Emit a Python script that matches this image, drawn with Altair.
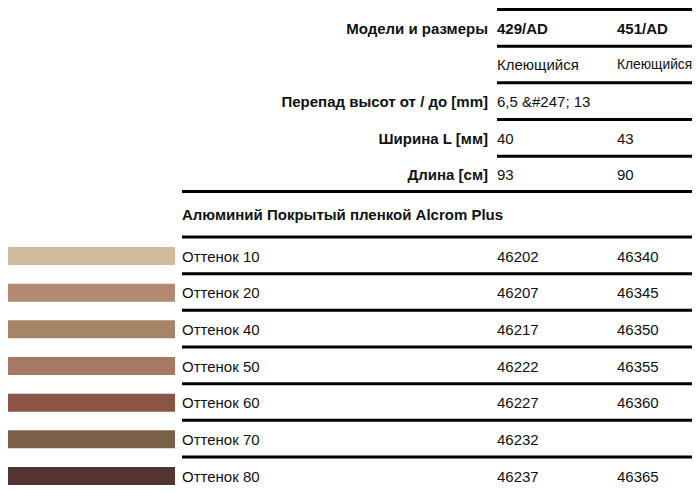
import altair as alt
import pandas as pd

# ---------------- data ----------------
model_columns = ["429/AD", "451/AD"]
spec_labels = ["Модели и размеры", "", "Перепад высот от / до [mm]", "Ширина L [мм]", "Длина [см]"]
col1_specs = ["429/AD", "Клеющийся", "6,5 &#247; 13", "40", "93"]
col2_specs = ["451/AD", "Клеющийся", "", "43", "90"]
section_title = "Алюминий Покрытый пленкой Alcrom Plus"
shade_names = ["Оттенок 10", "Оттенок 20", "Оттенок 40", "Оттенок 50",
               "Оттенок 60", "Оттенок 70", "Оттенок 80"]
col1_codes = ["46202", "46207", "46217", "46222", "46227", "46232", "46237"]
col2_codes = ["46340", "46345", "46350", "46355", "46360", "", "46365"]
shade_colors = ["#d0b99c", "#b48a70", "#a88466", "#a67965", "#8c5445", "#7a6046", "#533530"]

# ---------------- layout (page pixel units) ----------------
ROW_H = 36.67
HEAD_TOP = 9.5
SHADE_TOP = 237.0
LABEL_RIGHT = 488
COL_X = [497, 617]
LEFT_X = 182
RIGHT_EDGE = 692
SW_X0, SW_X1 = 8, 175
FS = 15
FS_TIGHT = 13.8   # last column text that would otherwise run past the right edge

bold_right, bold_left, normal_left, rules, swatches = [], [], [], [], []

for i, lab in enumerate(spec_labels):
    top = HEAD_TOP + i * ROW_H
    ty = top + 19
    rules.append({"x": COL_X[0], "x2": RIGHT_EDGE, "y": top})
    if lab:
        bold_right.append({"x": LABEL_RIGHT, "y": ty, "t": lab, "fs": FS})
    for k, (cx, val) in enumerate(zip(COL_X, [col1_specs[i], col2_specs[i]])):
        if not val:
            continue
        fs = FS_TIGHT if (k == 1 and len(val) > 6) else FS
        if i == 0:
            bold_left.append({"x": cx, "y": ty, "t": val, "fs": fs})
        else:
            normal_left.append({"x": cx, "y": ty, "t": val, "fs": fs})

rules.append({"x": LEFT_X, "x2": RIGHT_EDGE, "y": 191.5})
bold_left.append({"x": LEFT_X, "y": 215, "t": section_title, "fs": FS})

for j, name in enumerate(shade_names):
    top = SHADE_TOP + j * ROW_H
    ty = top + 19.5
    rules.append({"x": LEFT_X, "x2": RIGHT_EDGE, "y": top})
    normal_left.append({"x": LEFT_X, "y": ty, "t": name, "fs": FS})
    for cx, val in zip(COL_X, [col1_codes[j], col2_codes[j]]):
        if val:
            normal_left.append({"x": cx, "y": ty, "t": val, "fs": FS})
    swatches.append({"x": SW_X0, "x2": SW_X1, "y": top + 10, "y2": top + 28, "shade": name})

W, H = 684, 477
xs = alt.Scale(domain=[8, 8 + W], range=[0, W], nice=False, zero=False)
ys = alt.Scale(domain=[8, 8 + H], range=[0, H], nice=False, zero=False)

FONT = "Liberation Sans"


def text_layer(rows, align, weight):
    return alt.Chart(pd.DataFrame(rows)).mark_text(
        align=align, baseline="middle", font=FONT, fontWeight=weight, color="#111111"
    ).encode(
        x=alt.X("x:Q", scale=xs, axis=None),
        y=alt.Y("y:Q", scale=ys, axis=None),
        text="t:N",
        size=alt.Size("fs:Q", scale=None, legend=None),
    )


rule_layer = alt.Chart(pd.DataFrame(rules)).mark_rule(color="black", strokeWidth=3).encode(
    x=alt.X("x:Q", scale=xs, axis=None),
    x2="x2:Q",
    y=alt.Y("y:Q", scale=ys, axis=None),
)

swatch_layer = alt.Chart(pd.DataFrame(swatches)).mark_rect().encode(
    x=alt.X("x:Q", scale=xs, axis=None),
    x2="x2:Q",
    y=alt.Y("y:Q", scale=ys, axis=None),
    y2="y2:Q",
    color=alt.Color("shade:N", scale=alt.Scale(domain=shade_names, range=shade_colors), legend=None),
)

chart = alt.layer(
    rule_layer,
    swatch_layer,
    text_layer(bold_right, "right", "bold"),
    text_layer(bold_left, "left", "bold"),
    text_layer(normal_left, "left", "normal"),
).properties(
    width=W, height=H, autosize=alt.AutoSizeParams(type="none"), padding=0
).configure_view(stroke=None)

chart.save("out.html", embed_options={"renderer": "svg", "actions": False})
